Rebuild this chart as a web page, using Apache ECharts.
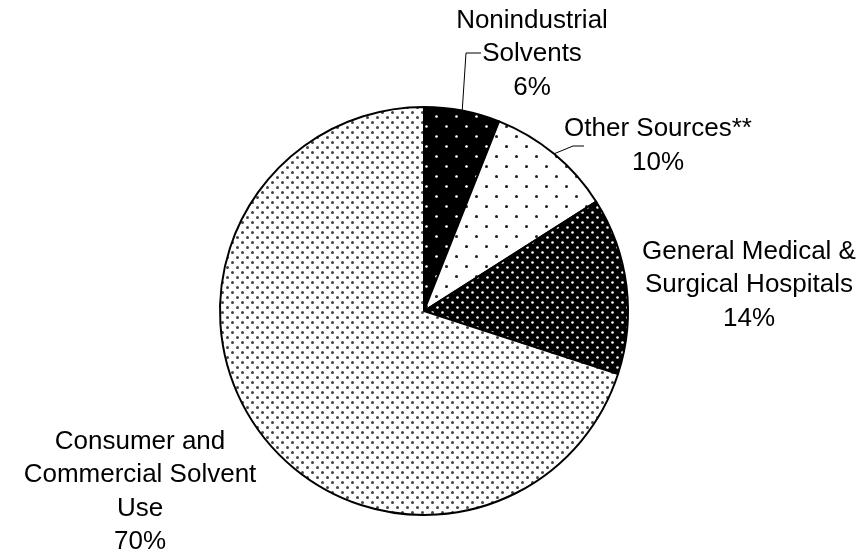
<!DOCTYPE html>
<html>
<head>
<meta charset="utf-8">
<script src="https://cdn.jsdelivr.net/npm/echarts@6/dist/echarts.min.js"></script>
<style>html,body{margin:0;padding:0;background:#fff}#c{width:862px;height:556px}</style>
</head>
<body>
<div id="c"></div>
<script>
var categories = ['Nonindustrial\nSolvents', 'Other Sources**', 'General Medical &\nSurgical Hospitals', 'Consumer and\nCommercial Solvent\nUse'];
var values = [6, 10, 14, 70];

function makePattern(tile, bg, dotColor, r, pts) {
  var c = document.createElement('canvas');
  c.width = tile; c.height = tile;
  var g = c.getContext('2d');
  g.fillStyle = bg; g.fillRect(0, 0, tile, tile);
  g.fillStyle = dotColor;
  pts.forEach(function (p) {
    g.beginPath(); g.arc(p[0], p[1], r, 0, Math.PI * 2); g.fill();
  });
  return { image: c, repeat: 'repeat' };
}
var patterns = [
  makePattern(20, '#000', '#fff', 1.3, [[6.5, 6.5], [16.5, 16.5]]),
  makePattern(20, '#fff', '#222', 1.5, [[6.5, 6.5], [16.5, 16.5]]),
  makePattern(10, '#000', '#fff', 1.3, [[2.5, 2.5], [7.5, 7.5]]),
  makePattern(10, '#fff', '#444', 1.5, [[2.5, 2.5], [7.5, 7.5]])
];
// label anchor (centre of text block) and leader elbow/end
var labelPos = [[532, 54], [658, 146], [749, 285], [140, 492]];
var leaders = [[[466, 53], [481, 53]], [[573, 146], [584, 146]], null, null];

var chart = echarts.init(document.getElementById('c'), null, { renderer: 'canvas' });
chart.setOption({
  animation: false,
  backgroundColor: '#fff',
  series: [{
    type: 'pie',
    center: [424, 311],
    radius: 204,
    startAngle: 90,
    clockwise: true,
    avoidLabelOverlap: false,
    itemStyle: { borderColor: '#000', borderWidth: 2 },
    label: {
      show: true,
      position: 'outside',
      color: '#000',
      fontFamily: 'Liberation Sans, Arial, sans-serif',
      fontSize: 26,
      lineHeight: 33.5,
      align: 'center',
      formatter: function (p) { return p.name + '\n' + p.value + '%'; }
    },
    labelLine: { show: true, lineStyle: { color: '#000', width: 1 } },
    labelLayout: function (params) {
      var i = params.dataIndex;
      var res = { x: labelPos[i][0], y: labelPos[i][1], align: 'center', verticalAlign: 'middle' };
      if (leaders[i] && params.labelLinePoints) {
        res.labelLinePoints = [params.labelLinePoints[0], leaders[i][0], leaders[i][1]];
      } else {
        res.labelLinePoints = [[0,0],[0,0],[0,0]];
      }
      return res;
    },
    emphasis: { disabled: true },
    data: categories.map(function (n, i) {
      return {
        name: n, value: values[i],
        itemStyle: { color: patterns[i] },
        labelLine: { show: !!leaders[i] }
      };
    })
  }]
});
</script>
</body>
</html>
